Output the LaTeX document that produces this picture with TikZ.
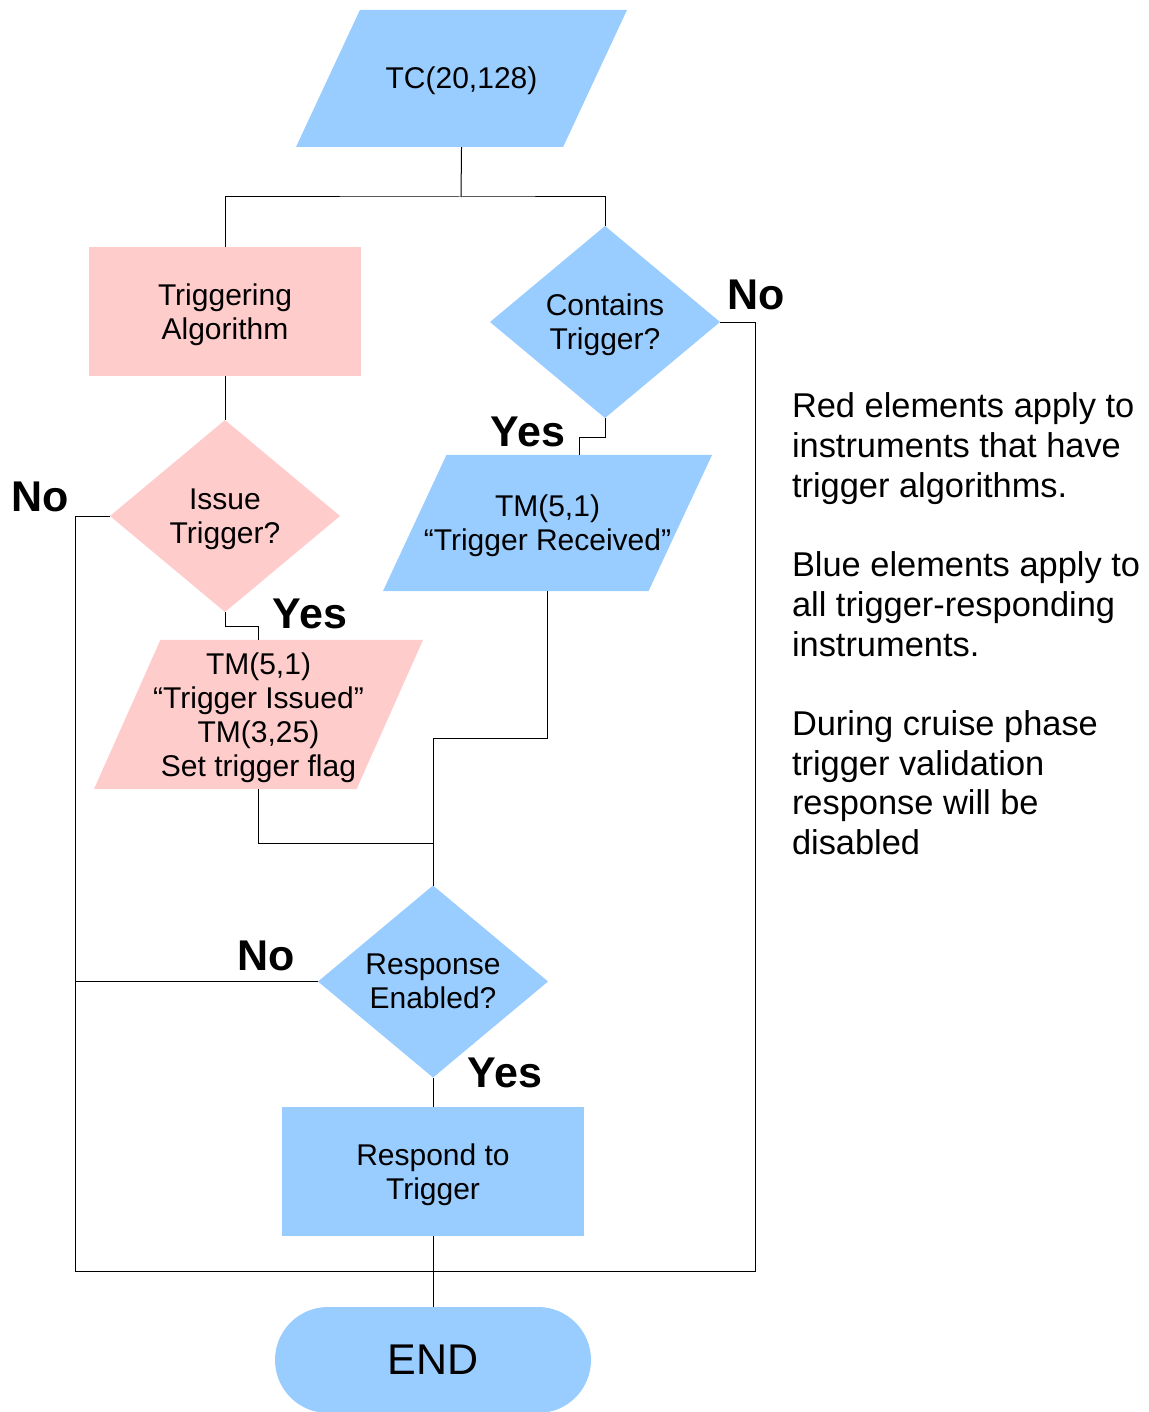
\documentclass[tikz,border=0pt]{standalone}
\usepackage{fontspec}
\setmainfont{Liberation Sans}
\usetikzlibrary{shapes.geometric, shapes.misc, positioning, calc}
\definecolor{flowblue}{HTML}{99CCFF}
\definecolor{flowpink}{HTML}{FFCCCC}
\newcommand{\textlift}{\rule{0pt}{14pt}}

\begin{document}
\begin{tikzpicture}[x=0.5pt, y=-0.5pt,
  every node/.style={font=\fontsize{15}{17}\selectfont, align=center, inner sep=0pt, outer sep=0pt},
  procbox/.style={rectangle, minimum height=64.5pt},
  choice/.style={diamond, aspect=1.2, minimum width=115pt, minimum height=96pt},
  iobox/.style={trapezium, trapezium left angle=65, trapezium right angle=115, trapezium stretches body},
  terminal/.style={rounded rectangle, fill=flowblue, minimum width=158pt, minimum height=53pt, font=\fontsize{21.5}{24}\selectfont},
  lbl/.style={font=\fontsize{21.5}{24}\selectfont\bfseries},
  note/.style={font=\fontsize{17.2}{19.85}\selectfont, align=left},
  link/.style={draw=black, line width=0.5pt}]
  \useasboundingbox (0,0) rectangle (1149,1412);

  \node[iobox, fill=flowblue, text height=12pt, text depth=2pt, inner ysep=27.25pt, minimum width=165.5pt] (tc) at (461.5,78.5) {TC(20,128)};
  \node[procbox, fill=flowpink, minimum width=136pt] (trigalg) at (225,311.5) {\textlift Triggering\\Algorithm};
  \node[choice, fill=flowpink] (issue) at (225,516) {\textlift Issue\\Trigger?};
  \node[iobox, fill=flowpink, trapezium left angle=66, trapezium right angle=114, inner ysep=3.2pt, inner xsep=-4.5pt, minimum width=164.5pt] (tmissued) at (258.5,714.5) {\textlift TM(5,1)\\“Trigger Issued”\\TM(3,25)\\Set trigger flag};
  \node[choice, fill=flowblue] (contains) at (605,322) {\textlift Contains\\Trigger?};
  \node[iobox, fill=flowblue, inner ysep=16.95pt, inner xsep=-12pt, minimum width=164.5pt] (tmrecv) at (547.5,523) {\textlift TM(5,1)\\“Trigger Received”};
  \node[choice, fill=flowblue] (respen) at (433,981.5) {Response\\Enabled?};
  \node[procbox, fill=flowblue, minimum width=151pt] (respond) at (433,1171.5) {\textlift Respond to\\Trigger};
  \node[terminal] (finish) at (433,1360) {END};

  \node[lbl] (nocont) at (756,295) {No};
  \node[lbl] (yescont) at (528,432) {Yes};
  \node[lbl] (noissue) at (40,497) {No};
  \node[lbl] (yesissue) at (310,614) {Yes};
  \node[lbl] (noresp) at (266,956) {No};
  \node[lbl] (yesresp) at (505,1073) {Yes};

  \node[note, anchor=north west] (notes) at (792,393) {Red elements apply to\\instruments that have\\trigger algorithms.\\[19.85pt]Blue elements apply to\\all trigger-responding\\instruments.\\[19.85pt]During cruise phase\\trigger validation\\response will be\\disabled};

  \coordinate (split) at (461,197);
  \coordinate (join) at (433,843);
  \coordinate (bl) at (75,1271);
  \coordinate (br) at (755,1271);

  \draw[link] (tc.south) -- (split);
  \draw[link] (trigalg.north) |- (split) -| (contains.north);
  \draw[link] (trigalg.south) -- (issue.north);
  \draw[link] (issue.south) -- ++(0,14) -| (tmissued.north);
  \draw[link] (issue.west) -| (bl) -- (br) |- (contains.east);
  \draw[link] (contains.south) -- ++(0,19) -| (tmrecv.top side);
  \draw[link] (tmrecv.south) -- ++(0,147) -| (respen.north);
  \draw[link] (tmissued.south) |- (join);
  \draw[link] (respen.west) -- (respen.west -| bl);
  \draw[link] (respen.south) -- (respond.north);
  \draw[link] (respond.south) -- (finish.north);
\end{tikzpicture}
\end{document}
